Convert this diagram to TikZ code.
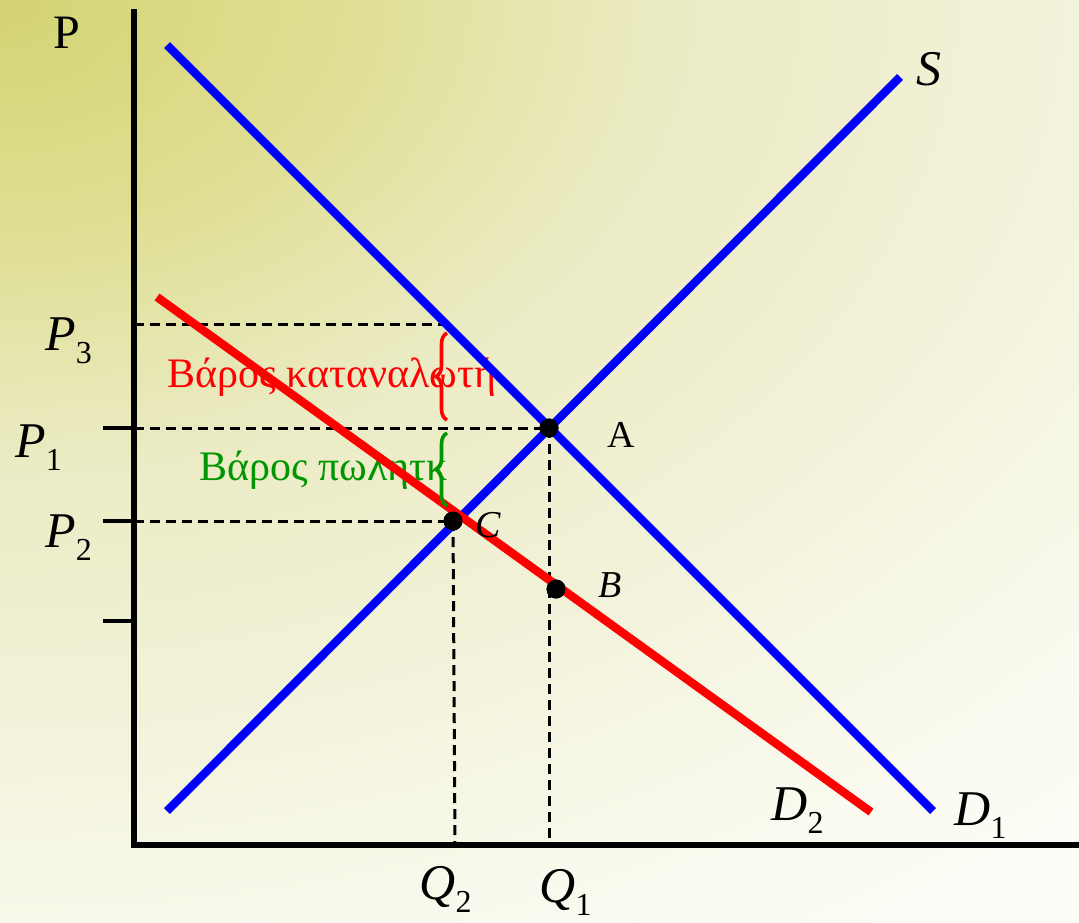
\documentclass[tikz,border=0pt]{standalone}
\usepackage{fontspec}
\setmainfont{Liberation Serif}
\usetikzlibrary{decorations.pathreplacing}
\definecolor{bgA}{RGB}{211,211,115}
\definecolor{bgB}{RGB}{222,222,145}
\definecolor{bgC}{RGB}{235,235,196}
\definecolor{bgE}{RGB}{243,243,220}
\definecolor{bgF}{RGB}{250,250,240}
\definecolor{bgD}{RGB}{252,252,246}
\definecolor{curveblue}{RGB}{0,0,255}
\definecolor{curvered}{RGB}{255,0,0}
\definecolor{sellergreen}{RGB}{0,150,0}
\pgfdeclareradialshading{bgshade}{\pgfpoint{0bp}{0bp}}{color(0bp)=(bgA); color(5bp)=(bgB); color(10.5bp)=(bgC); color(17bp)=(bgE); color(22.5bp)=(bgF); color(25bp)=(bgD); color(50bp)=(bgD)}
\newcommand{\labsub}[2]{\textit{#1}\raisebox{-6.5pt}{\fontsize{16}{16}\selectfont #2}}
\tikzset{
  axisline/.style={line width=3pt, line cap=rect},
  tickline/.style={line width=1.7pt},
  guide/.style={line width=1.5pt, dash pattern=on 5pt off 3pt},
  bluecurve/.style={line width=4.2pt, curveblue},
  redcurve/.style={line width=4.2pt, curvered},
  dot/.style={circle, fill=black, inner sep=0pt, minimum size=9.5pt},
  lab/.style={anchor=base west, inner sep=0pt, font=\fontsize{25}{25}\selectfont},
  ptlab/.style={anchor=base west, inner sep=0pt, font=\fontsize{19}{19}\selectfont},
  greek/.style={anchor=base west, inner sep=0pt, font=\fontsize{21}{21}\selectfont},
  bracestyle/.style={decorate, decoration={brace, amplitude=5.5pt}, line width=1.8pt}
}
\begin{document}
\begin{tikzpicture}[x=0.5pt, y=-0.5pt]
\useasboundingbox (0,0) rectangle (1079,922);
\fill[bgD] (0,0) rectangle (1079,922);
\begin{scope}
  \clip (0,0) rectangle (1079,922);
  \shade[shading=bgshade] (0,0) ellipse [x radius=1600, y radius=1100];
\end{scope}

% key coordinates
\coordinate (ytop) at (134,12);
\coordinate (origin) at (134,845);
\coordinate (xend) at (1079,845);
\coordinate (d1s) at (167,45);
\coordinate (d1e) at (933,811);
\coordinate (ss) at (167,811);
\coordinate (se) at (900,77);
\coordinate (d2s) at (157,297);
\coordinate (d2e) at (871,812);

% points
\node[dot] (A) at (549,428) {};
\node[dot] (C) at (453,521) {};
\node[dot] (B) at (556,589) {};

% axis ends for guides
\coordinate (yP3) at (134,324);
\coordinate (P3end) at (445,324);
\coordinate (yP1) at (134,428);
\coordinate (yP2) at (134,521);
\coordinate (xQ2) at (455,845);
\coordinate (xQ1) at (549,845);
\coordinate (t1) at (103,428);
\coordinate (t2) at (103,521);
\coordinate (t3) at (103,621);
\coordinate (y3) at (134,621);

% texts
\node[greek, text=curvered] (consumer) at (167,387) {Βάρος καταναλωτή};
\node[greek, text=sellergreen] (seller) at (199,480) {Βάρος πωλητκ};

% dashed guides
\draw[guide] (yP3) -- (P3end);
\draw[guide] (yP1) -- (A.center);
\draw[guide] (yP2) -- (C.center);
\draw[guide] (C.center) -- (xQ2);
\draw[guide] (A.center) -- (xQ1);

% ticks
\draw[tickline] (t1) -- (yP1);
\draw[tickline] (t2) -- (yP2);
\draw[tickline] (t3) -- (y3);

% axes
\draw[axisline] (ytop) -- (origin) -- (xend);

% curves
\draw[bluecurve] (d1s) -- (d1e);
\draw[bluecurve] (ss) -- (se);
\draw[redcurve] (d2s) -- (d2e);

% braces
\coordinate (rb1) at (447,420);
\coordinate (rb2) at (447,333);
\coordinate (gb1) at (447,506);
\coordinate (gb2) at (447,433);
\draw[bracestyle, curvered] (rb1) -- (rb2);
\draw[bracestyle, sellergreen] (gb1) -- (gb2);

% dots on top
\node[dot] at (A) {};
\node[dot] at (C) {};
\node[dot] at (B) {};

% labels
\node[lab, font=\fontsize{24}{24}\selectfont] (Plab) at (53,48) {P};
\node[lab] (Slab) at (916,85) {\textit{S}};
\node[lab] (P3lab) at (45,350) {\labsub{P}{3}};
\node[lab] (P1lab) at (15,457) {\labsub{P}{1}};
\node[lab] (P2lab) at (45,547) {\labsub{P}{2}};
\node[lab] (Q2lab) at (419,899) {\labsub{Q}{2}};
\node[lab] (Q1lab) at (539,902) {\labsub{Q}{1}};
\node[lab] (D2lab) at (771,820) {\labsub{D}{2}};
\node[lab] (D1lab) at (954,825) {\labsub{D}{1}};
\node[ptlab] (Alab) at (607,447) {A};
\node[ptlab] (Blab) at (598,597) {\textit{B}};
\node[ptlab] (Clab) at (475,537) {\textit{C}};
\end{tikzpicture}
\end{document}
